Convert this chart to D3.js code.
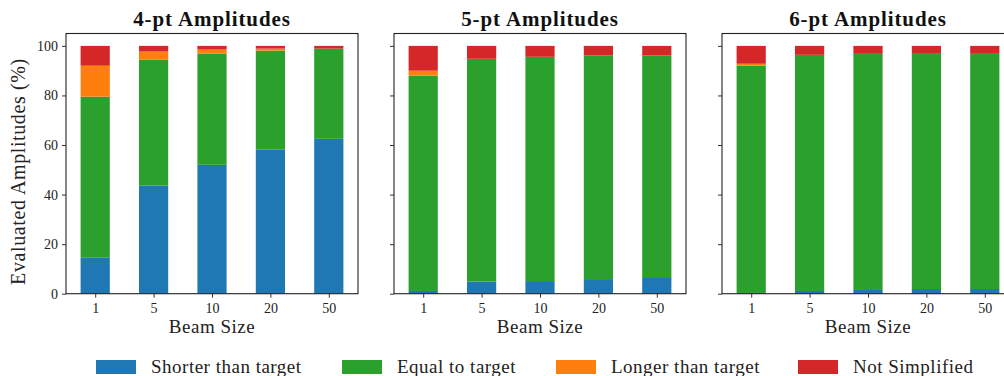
<!DOCTYPE html>
<html>
<head>
<meta charset="utf-8">
<script src="https://cdn.jsdelivr.net/npm/d3@7"></script>
<style>
  body { margin: 0; background: #fff; }
  svg, svg text { font-family: "Liberation Serif", "DejaVu Serif", serif !important; }
  svg { display: block; }
</style>
</head>
<body>
<div id="chart"></div>
<script>
// beam sizes on the x axis
const beamSizes = ["1", "5", "10", "20", "50"];
const panelTitles = ["4-pt Amplitudes", "5-pt Amplitudes", "6-pt Amplitudes"];
const seriesNames = ["Shorter than target", "Equal to target", "Longer than target", "Not Simplified"];
const seriesColors = ["#1f77b4", "#2ca02c", "#ff7f0e", "#d62728"];
const yTicks = [0, 20, 40, 60, 80, 100];

// percentages per panel, one array per series
const shorter4 = [14.5, 43.6, 52.0, 58.1, 62.5];
const equal4   = [65.0, 50.8, 44.8, 40.0, 36.4];
const longer4  = [12.5, 3.3, 1.7, 0.8, 0.0];
const notSimp4 = [8.0, 2.3, 1.5, 1.1, 1.1];

const shorter5 = [1.1, 4.9, 5.1, 5.9, 6.7];
const equal5   = [86.9, 89.9, 90.5, 90.3, 89.5];
const longer5  = [2.0, 0.0, 0.0, 0.0, 0.0];
const notSimp5 = [10.0, 5.2, 4.4, 3.8, 3.8];

const shorter6 = [0.3, 1.1, 1.5, 1.9, 1.9];
const equal6   = [91.7, 95.3, 95.3, 94.9, 94.9];
const longer6  = [0.8, 0.0, 0.0, 0.0, 0.0];
const notSimp6 = [7.2, 3.6, 3.2, 3.2, 3.2];

const panels = [
  [shorter4, equal4, longer4, notSimp4],
  [shorter5, equal5, longer5, notSimp5],
  [shorter6, equal6, longer6, notSimp6]
];

const W = 1004, H = 376;
const panelLeft = [66, 394, 722];
const panelW = 292;
const axTop = 33.5, axBottom = 293.7;

const svg = d3.select("#chart").append("svg")
  .attr("width", W).attr("height", H);

const y = d3.scaleLinear().domain([0, 105]).range([axBottom, axTop]);

panels.forEach((series, p) => {
  const x = d3.scaleLinear().domain([-0.5, 4.5]).range([0, panelW]);
  const g = svg.append("g").attr("transform", `translate(${panelLeft[p]},0)`);

  // stack the series
  const rows = beamSizes.map((b, i) => {
    const r = { beam: b, idx: i };
    seriesNames.forEach((s, k) => r[s] = series[k][i]);
    return r;
  });
  const stacked = d3.stack().keys(seriesNames)(rows);

  stacked.forEach((layer, k) => {
    g.selectAll(`.bar-${k}`)
      .data(layer)
      .enter()
      .append("rect")
      .attr("x", d => x(d.data.idx - 0.25))
      .attr("width", x(0.25) - x(-0.25))
      .attr("y", d => y(d[1]))
      .attr("height", d => y(d[0]) - y(d[1]))
      .attr("fill", seriesColors[k]);
  });

  // y axis
  const yAxis = d3.axisLeft(y).tickValues(yTicks).tickSize(4).tickPadding(4);
  if (p > 0) yAxis.tickFormat("");
  const ya = g.append("g").call(yAxis);
  ya.select(".domain").remove();
  ya.selectAll("line").attr("stroke", "#333");
  ya.selectAll("text").attr("font-size", 14).attr("fill", "#222");

  // x axis
  const xAxis = d3.axisBottom(x).tickValues(d3.range(5))
    .tickFormat(i => beamSizes[i]).tickSize(4).tickPadding(5);
  const xa = g.append("g").attr("transform", `translate(0,${axBottom})`).call(xAxis);
  xa.select(".domain").remove();
  xa.selectAll("line").attr("stroke", "#333");
  xa.selectAll("text").attr("font-size", 14).attr("fill", "#222");

  // frame
  g.append("rect")
    .attr("x", 0).attr("y", axTop)
    .attr("width", panelW).attr("height", axBottom - axTop)
    .attr("fill", "none").attr("stroke", "#222").attr("stroke-width", 1.1);

  g.append("text")
    .attr("x", panelW / 2).attr("y", 26)
    .attr("text-anchor", "middle")
    .attr("font-size", 21).attr("font-weight", "bold")
    .attr("letter-spacing", 0.9)
    .attr("fill", "#111")
    .text(panelTitles[p]);

  g.append("text")
    .attr("x", panelW / 2).attr("y", 333)
    .attr("text-anchor", "middle")
    .attr("font-size", 19).attr("letter-spacing", 0.5).attr("fill", "#222")
    .text("Beam Size");
});

svg.append("text")
  .attr("transform", `translate(25,${(axTop + axBottom) / 2 + 8}) rotate(-90)`)
  .attr("text-anchor", "middle")
  .attr("font-size", 20).attr("letter-spacing", 0.6).attr("fill", "#222")
  .text("Evaluated Amplitudes (%)");

// legend
const legendX = [96, 342, 556, 798];
const legend = svg.append("g");
seriesNames.forEach((s, k) => {
  legend.append("rect")
    .attr("x", legendX[k]).attr("y", 360)
    .attr("width", 40).attr("height", 14)
    .attr("fill", seriesColors[k]);
  legend.append("text")
    .attr("x", legendX[k] + 55).attr("y", 373)
    .attr("font-size", 19).attr("letter-spacing", 0.5).attr("fill", "#222")
    .text(s);
});
</script>
</body>
</html>
